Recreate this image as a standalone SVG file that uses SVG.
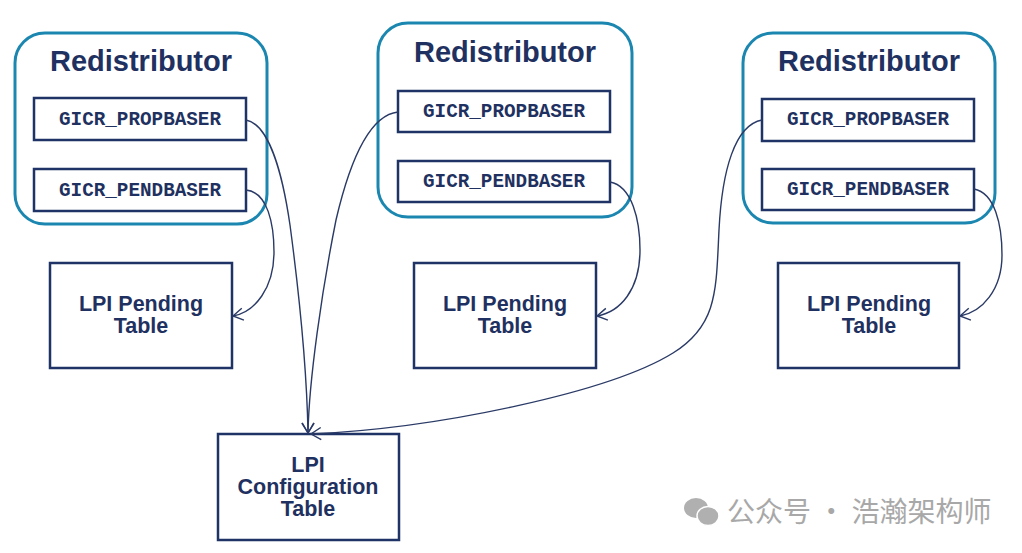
<svg xmlns="http://www.w3.org/2000/svg" width="1022" height="553" viewBox="0 0 1022 553">
<style>
.outer{fill:#fff;stroke:#1b87b0;stroke-width:3}
.reg{fill:#fff;stroke:#1f3366;stroke-width:2.5}
.tbl{fill:#fff;stroke:#1f3366;stroke-width:2.5}
.title{font-family:"Liberation Sans",Arial,sans-serif;font-weight:bold;font-size:29px;fill:#1f3160;text-anchor:middle}
.mono{font-family:"Liberation Mono","Courier New",monospace;font-weight:bold;font-size:19.3px;fill:#1f3160;text-anchor:middle}
.lbl{font-family:"Liberation Sans",Arial,sans-serif;font-weight:bold;font-size:21.5px;fill:#1f3160;text-anchor:middle}
.conn{fill:none;stroke:#2a3a66;stroke-width:1.4}
.wm{font-family:"Noto Sans CJK SC",sans-serif;font-size:28px;fill:#a8a8a8}
</style>
<defs>
<marker id="arr" markerWidth="14" markerHeight="14" refX="12" refY="7" orient="auto" markerUnits="userSpaceOnUse">
<path d="M2,1 L12,7 L2,13" fill="none" stroke="#2a3a66" stroke-width="1.4"/>
</marker>
</defs>
<rect width="1022" height="553" fill="#fff"/>

<g id="redist1">
<rect class="outer" x="15" y="33" width="252" height="191" rx="30"/>
<text class="title" x="141" y="71">Redistributor</text>
</g>
<g id="prop1"><rect class="reg" x="34" y="98" width="212" height="42"/><text class="mono" x="140" y="125">GICR_PROPBASER</text></g>
<g id="pend1"><rect class="reg" x="34" y="169" width="212" height="42"/><text class="mono" x="140" y="196">GICR_PENDBASER</text></g>

<g id="redist2">
<rect class="outer" x="378" y="23" width="254" height="194" rx="30"/>
<text class="title" x="505" y="62">Redistributor</text>
</g>
<g id="prop2"><rect class="reg" x="398" y="91" width="212" height="41"/><text class="mono" x="504" y="117">GICR_PROPBASER</text></g>
<g id="pend2"><rect class="reg" x="398" y="161" width="212" height="41"/><text class="mono" x="504" y="187">GICR_PENDBASER</text></g>

<g id="redist3">
<rect class="outer" x="743" y="33" width="252" height="190" rx="30"/>
<text class="title" x="869" y="71">Redistributor</text>
</g>
<g id="prop3"><rect class="reg" x="762" y="99" width="212" height="42"/><text class="mono" x="868" y="125">GICR_PROPBASER</text></g>
<g id="pend3"><rect class="reg" x="762" y="169" width="212" height="41"/><text class="mono" x="868" y="195">GICR_PENDBASER</text></g>

<g id="pending1"><rect class="tbl" x="50" y="263" width="182" height="105"/><text class="lbl" x="141" y="311">LPI Pending</text><text class="lbl" x="141" y="333">Table</text></g>
<g id="pending2"><rect class="tbl" x="414" y="263" width="182" height="105"/><text class="lbl" x="505" y="311">LPI Pending</text><text class="lbl" x="505" y="333">Table</text></g>
<g id="pending3"><rect class="tbl" x="778" y="263" width="181" height="105"/><text class="lbl" x="869" y="311">LPI Pending</text><text class="lbl" x="869" y="333">Table</text></g>

<g id="config"><rect class="tbl" x="218" y="434" width="181" height="106"/><text class="lbl" x="308" y="472">LPI</text><text class="lbl" x="308" y="494">Configuration</text><text class="lbl" x="308" y="516">Table</text></g>

<g id="connectors">
<path class="conn" marker-end="url(#arr)" d="M246,190 C268,192 274,225 274,252 C274,288 255,312 233,316"/>
<path class="conn" marker-end="url(#arr)" d="M246,120 C268,124 282,170 290,225 C300,300 307,380 308,433"/>
<path class="conn" marker-end="url(#arr)" d="M398,112 C370,115 350,160 336,220 C322,290 309,380 308,433"/>
<path class="conn" marker-end="url(#arr)" d="M610,182 C632,186 640,220 640,250 C640,290 620,312 597,316"/>
<path class="conn" marker-end="url(#arr)" d="M762,120 C735,125 722,170 719,230 C716,290 718,325 673,353 C610,392 440,428 311,434"/>
<path class="conn" marker-end="url(#arr)" d="M974,189 C995,193 1002,225 1002,255 C1002,290 982,312 960,316"/>
</g>

<g id="watermark">
<ellipse cx="696" cy="508" rx="12" ry="10" fill="#b0b0b0"/>
<ellipse cx="708" cy="516" rx="11" ry="9.5" fill="#b0b0b0" stroke="#fff" stroke-width="1.5"/>
<text class="wm" x="727" y="522">公众号 · 浩瀚架构师</text>
</g>
</svg>
